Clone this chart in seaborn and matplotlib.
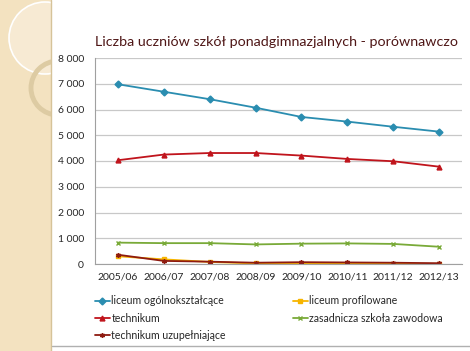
import pandas as pd
import seaborn as sns
import matplotlib.pyplot as plt
from matplotlib.patches import Circle
from matplotlib.lines import Line2D
from matplotlib.ticker import FuncFormatter

years = ["2005/06", "2006/07", "2007/08", "2008/09", "2009/10", "2010/11", "2011/12", "2012/13"]

liceum_ogolnoksztalcace = [6980, 6690, 6400, 6070, 5710, 5530, 5330, 5140]
liceum_profilowane = [300, 180, 80, 20, 10, 10, 10, 10]
technikum = [4030, 4250, 4310, 4310, 4210, 4080, 3990, 3780]
zasadnicza = [830, 810, 810, 760, 790, 800, 780, 670]
technikum_uzup = [360, 120, 90, 50, 70, 60, 50, 30]

series = {
    "liceum ogólnokształcące": liceum_ogolnoksztalcace,
    "liceum profilowane": liceum_profilowane,
    "technikum": technikum,
    "zasadnicza szkoła zawodowa": zasadnicza,
    "technikum uzupełniające": technikum_uzup,
}

colors = {
    "liceum ogólnokształcące": "#2A8DB0",
    "liceum profilowane": "#F7B500",
    "technikum": "#C0141C",
    "zasadnicza szkoła zawodowa": "#79AA38",
    "technikum uzupełniające": "#8E1A10",
}
markers = {
    "liceum ogólnokształcące": "D",
    "liceum profilowane": "s",
    "technikum": "^",
    "zasadnicza szkoła zawodowa": "x",
    "technikum uzupełniające": (6, 2, 0),
}

sns.set_style("white")
plt.rcParams['font.family'] = ['Lato', 'DejaVu Sans']

fig = plt.figure(figsize=(4.7, 3.51), dpi=100)

# dekoracja z lewej strony (w pikselach)
deco = fig.add_axes([0, 0, 51 / 470, 1])
deco.set_xlim(0, 51)
deco.set_ylim(351, 0)
deco.set_facecolor("#F3E2C0")
for s in deco.spines.values():
    s.set_visible(False)
deco.set_xticks([])
deco.set_yticks([])
deco.add_patch(Circle((45, 38), 36, facecolor="#F7EAD3", edgecolor="white", lw=1.2))
deco.add_patch(Circle((58, 88), 27, facecolor="none", edgecolor="#DDCBA3", lw=3.5))
fig.lines.append(Line2D([51 / 470, 51 / 470], [0, 1], transform=fig.transFigure,
                        color="#D6C399", lw=1))
fig.lines.append(Line2D([52 / 470, 1], [5 / 351, 5 / 351], transform=fig.transFigure,
                        color="#B0B0B0", lw=1))

ax = fig.add_axes([95 / 470, 1 - 264 / 351, 367 / 470, 206 / 351])

for name, vals in series.items():
    d = pd.DataFrame({"Rok": years, "Liczba": vals})
    sns.lineplot(data=d, x="Rok", y="Liczba", color=colors[name], marker=markers[name],
                 linewidth=1.3, markersize=3.5, markeredgewidth=1.0,
                 markeredgecolor=colors[name], sort=False, label=name, ax=ax)

ax.set_xlim(-0.5, 7.5)
ax.set_ylim(0, 8000)
ax.set_yticks(range(0, 8001, 1000))
ax.yaxis.set_major_formatter(FuncFormatter(lambda v, p: f"{int(v):,}".replace(",", " ")))
ax.set_xticks(range(len(years)))
ax.set_xticklabels(years)
ax.set_xticks([i - 0.5 for i in range(len(years) + 1)], minor=True)
ax.tick_params(axis="x", which="major", length=0, labelsize=7.5, pad=6)
ax.tick_params(axis="x", which="minor", length=4, color="#A0A0A0", width=0.8)
ax.tick_params(axis="y", length=4, color="#A0A0A0", width=0.8, labelsize=7.5, pad=4)
ax.set_xlabel("")
ax.set_ylabel("")
ax.yaxis.grid(True, color="#C8C8C8", lw=0.9)
ax.set_axisbelow(True)
for s in ["top", "right"]:
    ax.spines[s].set_visible(False)
ax.spines["left"].set_color("#A0A0A0")
ax.spines["bottom"].set_color("#A0A0A0")

handles, labels = ax.get_legend_handles_labels()
ax.get_legend().remove()
col1 = ["liceum ogólnokształcące", "technikum", "technikum uzupełniające"]
col2 = ["liceum profilowane", "zasadnicza szkoła zawodowa"]
leg_kw = dict(loc="upper left", frameon=False, fontsize=7.6, handlelength=1.4,
              handletextpad=0.15, labelspacing=0.6, borderaxespad=0, borderpad=0)
fig.legend([handles[labels.index(o)] for o in col1], col1,
           bbox_to_anchor=(95 / 470, 1 - 295.5 / 351), **leg_kw)
fig.legend([handles[labels.index(o)] for o in col2], col2,
           bbox_to_anchor=(293 / 470, 1 - 295.5 / 351), **leg_kw)

fig.text(95 / 470, 1 - 42 / 351, "Liczba uczniów szkół ponadgimnazjalnych - porównawczo",
         fontsize=10.3, color="#4E1616", va="center", ha="left")

plt.savefig("out.png", dpi=100)
